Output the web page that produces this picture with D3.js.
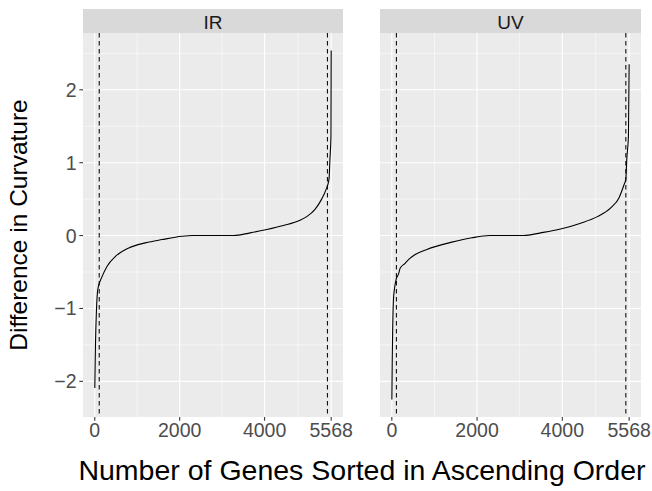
<!DOCTYPE html>
<html>
<head>
<meta charset="utf-8">
<script src="https://cdn.jsdelivr.net/npm/d3@7"></script>
<style>
  body { margin: 0; background: #fff; }
  svg text { font-family: "Liberation Sans", Arial, sans-serif; }
</style>
</head>
<body>
<svg id="chart" width="652" height="491"></svg>
<script>
// panels
var panels = ["IR", "UV"];

// sorted curvature differences (gene rank, value)
var irRank  = [1, 8, 17, 40, 71, 174, 291, 487, 800, 1192, 1584, 2054, 2300, 3270, 3659, 4052, 4442, 4834, 4992, 5187, 5344, 5446, 5516, 5539, 5563, 5568];
var irValue = [-2.09, -1.8, -1.48, -1.02, -0.74, -0.56, -0.42, -0.285, -0.17, -0.10, -0.055, -0.01, 0, 0, 0.037, 0.083, 0.138, 0.21, 0.26, 0.36, 0.50, 0.63, 0.77, 1.05, 1.37, 2.54];

var uvRank  = [1, 10, 20, 38, 60, 101, 156, 195, 313, 430, 548, 821, 1410, 1880, 2300, 3093, 3489, 3959, 4430, 4822, 5136, 5332, 5450, 5490, 5513, 5552, 5568];
var uvValue = [-2.25, -1.7, -1.3, -0.88, -0.74, -0.6, -0.53, -0.45, -0.38, -0.31, -0.26, -0.19, -0.09, -0.03, 0, 0, 0.037, 0.09, 0.17, 0.26, 0.38, 0.52, 0.70, 0.77, 1.05, 1.37, 2.35];

// dashed cutoffs per panel
var cutLow  = [105, 108];
var cutHigh = [5480, 5490];

// ticks
var xTicks = [0, 2000, 4000, 5568];
var xMinor = [1000, 3000, 4784];
var yTicks = [-2, -1, 0, 1, 2];
var yMinor = [-1.5, -0.5, 0.5, 1.5, 2.5];

var series = [
  irRank.map((r, i) => ({x: r, y: irValue[i]})),
  uvRank.map((r, i) => ({x: r, y: uvValue[i]}))
];

var svg = d3.select("#chart");

var panelX = [[83, 343], [380, 641]];
var panelTop = 33, panelBottom = 417, stripTop = 9;

// ggplot style 5% expansion
var allY = irValue.concat(uvValue);
var yMin = d3.min(allY), yMax = d3.max(allY);
var yPad = (yMax - yMin) * 0.05;
var yScale = d3.scaleLinear().domain([yMin - yPad, yMax + yPad]).range([panelBottom, panelTop]);

var xMin = 1, xMax = 5568;
var xPad = (xMax - xMin) * 0.05;

var fmt = d => d < 0 ? "\u2212" + Math.abs(d) : String(d);

panels.forEach(function(name, p) {
  var x0 = panelX[p][0], x1 = panelX[p][1];
  var xScale = d3.scaleLinear().domain([xMin - xPad, xMax + xPad]).range([x0, x1]);
  var g = svg.append("g");

  // background
  g.append("rect").attr("x", x0).attr("y", panelTop).attr("width", x1 - x0).attr("height", panelBottom - panelTop)
    .attr("fill", "#EBEBEB");

  // minor grid
  g.selectAll(".ymin").data(yMinor.filter(v => yScale(v) >= panelTop)).join("line")
    .attr("x1", x0).attr("x2", x1)
    .attr("y1", d => yScale(d)).attr("y2", d => yScale(d))
    .attr("stroke", "#fff").attr("stroke-width", 0.55);
  g.selectAll(".xmin").data(xMinor).join("line")
    .attr("x1", d => xScale(d)).attr("x2", d => xScale(d))
    .attr("y1", panelTop).attr("y2", panelBottom)
    .attr("stroke", "#fff").attr("stroke-width", 0.55);

  // major grid
  g.selectAll(".ymaj").data(yTicks).join("line")
    .attr("x1", x0).attr("x2", x1)
    .attr("y1", d => yScale(d)).attr("y2", d => yScale(d))
    .attr("stroke", "#fff").attr("stroke-width", 1.1);
  g.selectAll(".xmaj").data(xTicks).join("line")
    .attr("x1", d => xScale(d)).attr("x2", d => xScale(d))
    .attr("y1", panelTop).attr("y2", panelBottom)
    .attr("stroke", "#fff").attr("stroke-width", 1.1);

  // dashed cutoffs
  g.selectAll(".cut").data([cutLow[p], cutHigh[p]]).join("line")
    .attr("x1", d => xScale(d)).attr("x2", d => xScale(d))
    .attr("y1", panelTop).attr("y2", panelBottom)
    .attr("stroke", "#111").attr("stroke-width", 1.1)
    .attr("stroke-dasharray", "4.5,3.5");

  // curve
  var line = d3.line().x(d => xScale(d.x)).y(d => yScale(d.y)).curve(d3.curveMonotoneX);
  g.append("path").datum(series[p]).attr("d", line)
    .attr("fill", "none").attr("stroke", "#000").attr("stroke-width", 1.1);

  // strip
  g.append("rect").attr("x", x0).attr("y", stripTop).attr("width", x1 - x0).attr("height", panelTop - stripTop)
    .attr("fill", "#D9D9D9");
  g.append("text").attr("x", (x0 + x1) / 2).attr("y", 29).attr("text-anchor", "middle")
    .attr("font-size", 19).attr("fill", "#1A1A1A").text(name);

  // x axis
  g.selectAll(".xt").data(xTicks).join("line")
    .attr("x1", d => xScale(d)).attr("x2", d => xScale(d))
    .attr("y1", panelBottom).attr("y2", panelBottom + 3.7)
    .attr("stroke", "#333").attr("stroke-width", 1.07);
  g.selectAll(".xl").data(xTicks).join("text")
    .attr("x", d => xScale(d)).attr("y", 437).attr("text-anchor", "middle")
    .attr("font-size", 19.5).attr("fill", "#4D4D4D").text(fmt);

  // y axis only on first panel
  if (p === 0) {
    g.selectAll(".yt").data(yTicks).join("line")
      .attr("x1", x0 - 3.7).attr("x2", x0)
      .attr("y1", d => yScale(d)).attr("y2", d => yScale(d))
      .attr("stroke", "#333").attr("stroke-width", 1.07);
    g.selectAll(".yl").data(yTicks).join("text")
      .attr("x", x0 - 6.5).attr("y", d => yScale(d)).attr("dy", "0.36em")
      .attr("text-anchor", "end")
      .attr("font-size", 19.5).attr("fill", "#4D4D4D").text(fmt);
  }
});

// axis titles
svg.append("text").attr("x", (panelX[0][0] + panelX[1][1]) / 2).attr("y", 480)
  .attr("text-anchor", "middle").attr("font-size", 28.5).attr("fill", "#000")
  .text("Number of Genes Sorted in Ascending Order");
svg.append("text")
  .attr("transform", "translate(27," + ((panelTop + panelBottom) / 2) + ") rotate(-90)")
  .attr("text-anchor", "middle").attr("font-size", 24.5).attr("fill", "#000")
  .text("Difference in Curvature");
</script>
</body>
</html>
